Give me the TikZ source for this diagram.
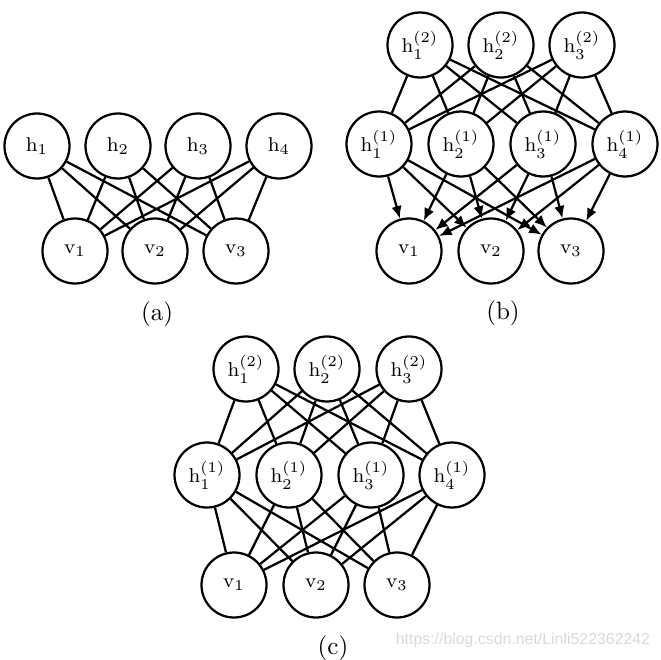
\documentclass[tikz,border=0pt]{standalone}
\usepackage{amsmath}
\usepackage{fontspec}
\newfontfamily\markfont{Liberation Sans}
\usetikzlibrary{arrows.meta}

\tikzset{
    unit/.style={circle, draw=black, line width=0.9pt, minimum size=26pt, inner sep=0pt, font=\footnotesize},
    link/.style={line width=0.9pt},
    dlink/.style={line width=0.9pt, -{Latex[length=5pt, width=4.2pt]}}
}

\begin{document}
\begin{tikzpicture}[x=0.4pt, y=-0.4pt]
        \useasboundingbox (0, 0) rectangle (661, 660);

        % (a)
        \node[unit] (ah1) at (37, 146) {$\mathrm{h}_1$};
        \node[unit] (ah2) at (118, 146) {$\mathrm{h}_2$};
        \node[unit] (ah3) at (198, 146) {$\mathrm{h}_3$};
        \node[unit] (ah4) at (279, 146) {$\mathrm{h}_4$};
        \node[unit] (av1) at (75, 251) {$\mathrm{v}_1$};
        \node[unit] (av2) at (155, 251) {$\mathrm{v}_2$};
        \node[unit] (av3) at (236, 251) {$\mathrm{v}_3$};
        \foreach \i in {1,...,4}
            \foreach \j in {1,...,3}
                \draw[link] (ah\i) -- (av\j);
        \node (capa) at (157, 314) {(a)};

        % (b)
        \node[unit] (bt1) at (420, 45) {$\mathrm{h}_1^{(2)}$};
        \node[unit] (bt2) at (501, 45) {$\mathrm{h}_2^{(2)}$};
        \node[unit] (bt3) at (582, 45) {$\mathrm{h}_3^{(2)}$};
        \node[unit] (bh1) at (379, 144) {$\mathrm{h}_1^{(1)}$};
        \node[unit] (bh2) at (461, 144) {$\mathrm{h}_2^{(1)}$};
        \node[unit] (bh3) at (543, 144) {$\mathrm{h}_3^{(1)}$};
        \node[unit] (bh4) at (625, 144) {$\mathrm{h}_4^{(1)}$};
        \node[unit] (bv1) at (409, 251) {$\mathrm{v}_1$};
        \node[unit] (bv2) at (491, 251) {$\mathrm{v}_2$};
        \node[unit] (bv3) at (571, 251) {$\mathrm{v}_3$};
        \foreach \i in {1,...,4}{
            \foreach \k in {1,...,3}
                \draw[link] (bt\k) -- (bh\i);
            \foreach \j in {1,...,3}
                \draw[dlink] (bh\i) -- (bv\j);
        }
        \node (capb) at (503, 313) {(b)};

        % (c)
        \node[unit] (ct1) at (246, 369) {$\mathrm{h}_1^{(2)}$};
        \node[unit] (ct2) at (327, 369) {$\mathrm{h}_2^{(2)}$};
        \node[unit] (ct3) at (409, 369) {$\mathrm{h}_3^{(2)}$};
        \node[unit] (ch1) at (207, 475) {$\mathrm{h}_1^{(1)}$};
        \node[unit] (ch2) at (289, 475) {$\mathrm{h}_2^{(1)}$};
        \node[unit] (ch3) at (371, 475) {$\mathrm{h}_3^{(1)}$};
        \node[unit] (ch4) at (452, 475) {$\mathrm{h}_4^{(1)}$};
        \node[unit] (cv1) at (234, 585) {$\mathrm{v}_1$};
        \node[unit] (cv2) at (316, 585) {$\mathrm{v}_2$};
        \node[unit] (cv3) at (397, 585) {$\mathrm{v}_3$};
        \foreach \i in {1,...,4}{
            \foreach \k in {1,...,3}
                \draw[link] (ct\k) -- (ch\i);
            \foreach \j in {1,...,3}
                \draw[link] (ch\i) -- (cv\j);
        }
        \node (capc) at (333, 648) {(c)};

        \node[text=black!15, font=\markfont\fontsize{6.35}{7}\selectfont, inner sep=0pt] (mark) at (523, 640) {https://blog.csdn.net/Linli522362242};

    \end{tikzpicture}
\end{document}
